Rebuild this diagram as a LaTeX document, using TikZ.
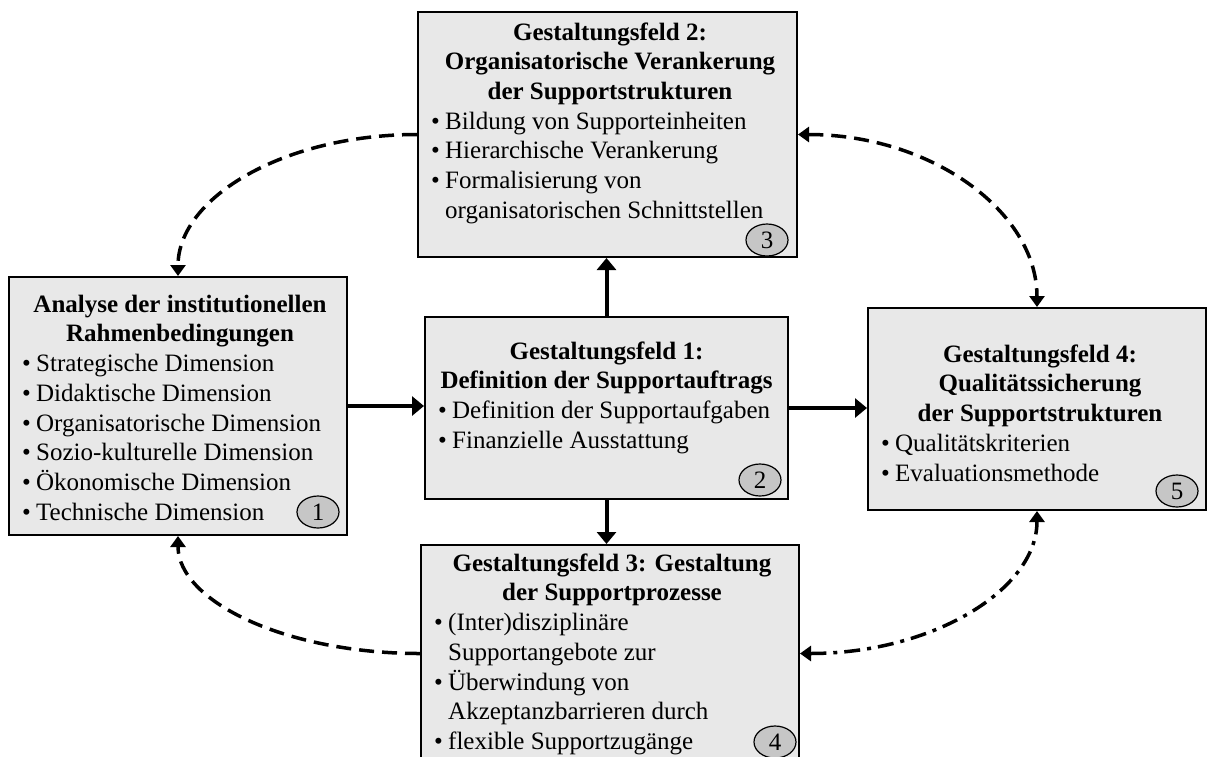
\documentclass[tikz,border=0pt]{standalone}
\usepackage{fontspec}
\setmainfont{Liberation Serif}
\usetikzlibrary{arrows.meta,shapes.geometric}
\definecolor{boxgray}{HTML}{E8E8E8}
\definecolor{taggray}{HTML}{C6C6C6}
% bullet item and continuation line with the same hanging indent
\newcommand\bul[1]{\strut\makebox[14pt][l]{\textbullet}#1}
\newcommand\cont[1]{\strut\makebox[14pt]{}#1}

\begin{document}
\begin{tikzpicture}[x=1pt,y=-1pt,
  field/.style={rectangle, draw=black, line width=2pt, fill=boxgray, inner sep=0pt},
  txt/.style={inner sep=0pt, font=\fontsize{25}{29.7}\selectfont},
  head/.style={txt, align=center, anchor=north, font=\fontsize{25}{29.7}\selectfont\bfseries},
  items/.style={txt, align=left, anchor=north west},
  tag/.style={ellipse, draw=black, line width=1.2pt, fill=taggray,
    minimum width=42pt, minimum height=32pt, inner sep=0pt,
    font=\fontsize{25}{29.7}\selectfont},
  flow/.style={line width=4pt, -{Triangle[length=12pt,width=19pt]}},
  link/.style={line width=3.5pt, dash pattern=on 15pt off 8pt},
  linkdot/.style={line width=3.5pt, dash pattern=on 16pt off 7pt on 4pt off 7pt},
  tipend/.style={-{Triangle[length=11pt,width=15pt]}},
  tipboth/.style={{Triangle[length=11pt,width=15pt]}-{Triangle[length=11pt,width=15pt]}}
]
\useasboundingbox (0,0) rectangle (1207,756);

% the five fields
\node[field, minimum width=379pt, minimum height=245pt] (b3) at (607.5,134.5) {};
\node[field, minimum width=338pt, minimum height=258pt] (b1) at (178,406) {};
\node[field, minimum width=363pt, minimum height=182pt] (b2) at (606.5,408) {};
\node[field, minimum width=338pt, minimum height=202pt] (b5) at (1037,409) {};
\node[field, minimum width=378pt, minimum height=217pt] (b4) at (610,653.5) {};

% texts of the fields
\node[head] (t3) at (610,19.2) {\strut Gestaltungsfeld 2:\\\strut Organisatorische Verankerung\\\strut der Supportstrukturen};
\node[items] (i3) at (431,108.3) {\bul{Bildung von Supporteinheiten}\\\bul{Hierarchische Verankerung}\\\bul{Formalisierung von}\\\cont{organisatorischen Schnittstellen}};

\node[head] (t1) at (180,291.2) {\strut Analyse der institutionellen\\\strut Rahmenbedingungen};
\node[items] (i1) at (22,350.6) {\bul{Strategische Dimension}\\\bul{Didaktische Dimension}\\\bul{Organisatorische Dimension}\\\bul{Sozio-kulturelle Dimension}\\\bul{Ökonomische Dimension}\\\bul{Technische Dimension}};

\node[head] (t2) at (606.5,338.2) {\strut Gestaltungsfeld 1:\\\strut Definition der Supportauftrags};
\node[items] (i2) at (438,397.6) {\bul{Definition der Supportaufgaben}\\\bul{Finanzielle Ausstattung}};

\node[head] (t5) at (1040,341.2) {\strut Gestaltungsfeld 4:\\\strut Qualitätssicherung\\\strut der Supportstrukturen};
\node[items] (i5) at (881,430.3) {\bul{Qualitätskriterien}\\\bul{Evaluationsmethode}};

\node[head] (t4) at (612,550.2) {\strut Gestaltungsfeld 3: Gestaltung\\\strut der Supportprozesse};
\node[items] (i4) at (434,609.6) {\bul{(Inter)disziplinäre}\\\cont{Supportangebote zur}\\\bul{Überwindung von}\\\cont{Akzeptanzbarrieren durch}\\\bul{flexible Supportzugänge}};

% numbered tags
\node[tag] (n1) at (318,512) {1};
\node[tag] (n2) at (760,480) {2};
\node[tag] (n3) at (767,240) {3};
\node[tag] (n4) at (775,742) {4};
\node[tag] (n5) at (1177,491) {5};

% solid flows out of field 1
\draw[flow] (b1.east) -- (b1.east -| b2.west);
\draw[flow] (b2.east) -- (b2.east -| b5.west);
\draw[flow] (b2.north) -- (b2.north |- b3.south);
\draw[flow] (b2.south) -- (b2.south |- b4.north);

% feedback loops
\draw[link, tipend] (b3.west) .. controls +(-132.5,0) and +(0,-78.7) .. (b1.north);
\draw[link, tipboth] (b3.east) .. controls +(132.5,0) and +(0,-95.8) .. (b5.north);
\draw[link, tipend] (b4.west) .. controls +(-134,0) and +(0,65.4) .. (b1.south);
\draw[linkdot, tipboth] (b4.east) .. controls +(131.4,0) and +(0,79.2) .. (b5.south);
\end{tikzpicture}
\end{document}
